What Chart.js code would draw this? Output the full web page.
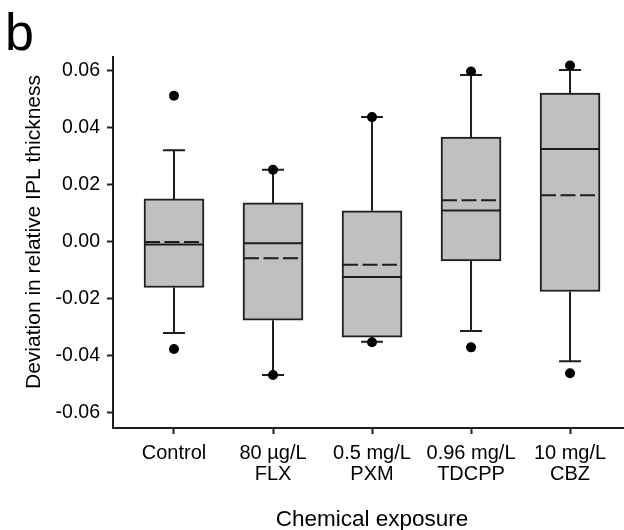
<!DOCTYPE html>
<html>
<head>
<meta charset="utf-8">
<script src="https://cdn.jsdelivr.net/npm/chart.js@4.4.1/dist/chart.umd.min.js"></script>
<style>
  html, body { margin: 0; padding: 0; background: #fff; overflow: hidden; }
  #wrap { width: 624px; height: 530px; position: relative; }
  canvas { display: block; }
</style>
</head>
<body>
<div id="wrap"><canvas id="box-chart"></canvas></div>
<script>
// box plot values
var categories = [["Control"], ["80 µg/L", "FLX"], ["0.5 mg/L", "PXM"], ["0.96 mg/L", "TDCPP"], ["10 mg/L", "CBZ"]];
var q1 = [-0.0160, -0.0275, -0.0334, -0.0067, -0.0174];
var q3 = [0.0151, 0.0137, 0.0109, 0.0368, 0.0522];
var medians = [-0.0009, -0.0005, -0.0123, 0.0110, 0.0326];
var means = [0.0000, -0.0057, -0.0080, 0.0146, 0.0164];
var whiskerLow = [-0.0320, -0.0467, -0.0350, -0.0313, -0.0419];
var whiskerHigh = [0.0322, 0.0253, 0.0438, 0.0586, 0.0603];
var outlierCat = [0, 0, 1, 1, 2, 2, 3, 3, 4, 4];
var outlierVal = [0.0513, -0.0376, 0.0253, -0.0467, 0.0438, -0.0352, 0.0598, -0.0370, 0.0619, -0.0461];
var yTicks = [-0.06, -0.04, -0.02, 0.00, 0.02, 0.04, 0.06];

var FONT = "'Liberation Sans', Arial, sans-serif";
var INK = "#1e1e1e";

var boxParts = {
    id: "boxParts",
    beforeDatasetsDraw: function (chart) {
        var ctx = chart.ctx, x = chart.scales.x, y = chart.scales.y;
        ctx.save();
        ctx.strokeStyle = INK;
        ctx.lineWidth = 2;
        categories.forEach(function (c, i) {
            var px = x.getPixelForValue(i);
            var top = y.getPixelForValue(whiskerHigh[i]);
            var bot = y.getPixelForValue(whiskerLow[i]);
            ctx.beginPath();
            ctx.moveTo(px, y.getPixelForValue(q3[i]));
            ctx.lineTo(px, top);
            ctx.moveTo(px - 11, top);
            ctx.lineTo(px + 11, top);
            ctx.moveTo(px, y.getPixelForValue(q1[i]));
            ctx.lineTo(px, bot);
            ctx.moveTo(px - 11, bot);
            ctx.lineTo(px + 11, bot);
            ctx.stroke();
        });
        ctx.restore();
    },
    afterDatasetsDraw: function (chart) {
        var ctx = chart.ctx, x = chart.scales.x, y = chart.scales.y;
        ctx.save();
        ctx.strokeStyle = INK;
        ctx.lineWidth = 2;
        categories.forEach(function (c, i) {
            var px = x.getPixelForValue(i);
            var m = y.getPixelForValue(medians[i]);
            ctx.setLineDash([]);
            ctx.beginPath();
            ctx.moveTo(px - 30, m);
            ctx.lineTo(px + 30, m);
            ctx.stroke();
            var mn = y.getPixelForValue(means[i]);
            ctx.setLineDash([15, 4.5]);
            ctx.beginPath();
            ctx.moveTo(px - 29, mn);
            ctx.lineTo(px + 26, mn);
            ctx.stroke();
        });
        ctx.restore();
    },
    afterDraw: function (chart) {
        var ctx = chart.ctx;
        ctx.save();
        ctx.fillStyle = "#000";
        ctx.font = "52px " + FONT;
        ctx.textAlign = "left";
        ctx.textBaseline = "alphabetic";
        ctx.fillText("b", 5, 50);
        ctx.font = "22.5px " + FONT;
        ctx.textAlign = "center";
        ctx.fillText("Chemical exposure", 372, 526);
        ctx.font = "21px " + FONT;
        ctx.textBaseline = "middle";
        ctx.translate(34, 232);
        ctx.rotate(-Math.PI / 2);
        ctx.fillText("Deviation in relative IPL thickness", 0, 0);
        ctx.restore();
    }
};

var boxData = categories.map(function (c, i) {
    return { x: i, y: [q1[i], q3[i]] };
});
var outlierData = outlierCat.map(function (c, i) {
    return { x: c, y: outlierVal[i] };
});

new Chart(document.getElementById("box-chart"), {
    type: "bar",
    data: {
        datasets: [
            {
                type: "bar",
                data: boxData,
                backgroundColor: "#c0c0c0",
                borderColor: INK,
                borderWidth: 2,
                borderSkipped: false,
                barThickness: 60
            },
            {
                type: "scatter",
                data: outlierData,
                backgroundColor: "#000",
                borderColor: "#000",
                pointRadius: 5,
                pointBorderWidth: 0,
                clip: false
            }
        ]
    },
    options: {
        responsive: true,
        maintainAspectRatio: false,
        animation: false,
        layout: { autoPadding: false, padding: { top: 57, left: 0, right: 0, bottom: 0 } },
        plugins: {
            legend: { display: false },
            tooltip: { enabled: false }
        },
        scales: {
            x: {
                type: "linear",
                offset: false,
                min: -0.616,
                max: 4.545,
                afterBuildTicks: function (scale) {
                    scale.ticks = categories.map(function (c, i) { return { value: i }; });
                },
                afterFit: function (scale) {
                    scale.height = 102;
                    scale.paddingLeft = 0;
                    scale.paddingRight = 0;
                },
                grid: { offset: false, drawOnChartArea: false, tickLength: 6, tickColor: INK, tickWidth: 2 },
                border: { display: true, color: INK, width: 2 },
                ticks: {
                    color: "#000",
                    padding: 9,
                    maxRotation: 0,
                    autoSkip: false,
                    font: { family: FONT, size: 20, lineHeight: 1.04 },
                    callback: function (v) { return categories[v]; }
                }
            },
            y: {
                min: -0.0653,
                max: 0.0649,
                afterBuildTicks: function (scale) {
                    scale.ticks = yTicks.map(function (v) { return { value: v }; });
                },
                afterFit: function (scale) {
                    scale.width = 113;
                    scale.paddingTop = 0;
                    scale.paddingBottom = 0;
                },
                grid: { drawOnChartArea: false, tickLength: 6, tickColor: INK, tickWidth: 2 },
                border: { display: true, color: INK, width: 2 },
                ticks: {
                    color: "#000",
                    padding: 7,
                    font: { family: FONT, size: 19.5 },
                    callback: function (v) { return v.toFixed(2); }
                }
            }
        }
    },
    plugins: [boxParts]
});
</script>
</body>
</html>
